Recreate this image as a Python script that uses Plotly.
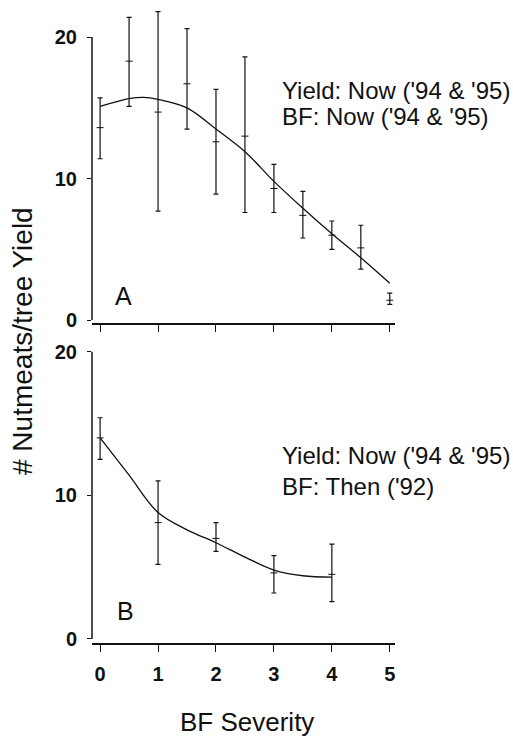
import plotly.graph_objects as go

# ---- Data ----
sev_a = [0, 0.5, 1, 1.5, 2, 2.5, 3, 3.5, 4, 4.5, 5]
mean_a = [13.6, 18.3, 14.7, 16.7, 12.6, 13.0, 9.3, 7.4, 6.0, 5.1, 1.4]
upper_a = [15.7, 21.4, 21.8, 20.6, 16.3, 18.6, 11.0, 9.1, 7.0, 6.7, 1.9]
lower_a = [11.4, 15.1, 7.7, 13.5, 8.9, 7.6, 7.6, 5.8, 5.0, 3.6, 1.1]
fit_x_a = [0, 0.5, 0.75, 1, 1.5, 2, 2.5, 3, 3.5, 4, 4.5, 5]
fit_a = [15.1, 15.65, 15.74, 15.6, 15.0, 13.5, 11.9, 9.8, 7.9, 6.1, 4.4, 2.6]

sev_b = [0, 1, 2, 3, 4]
mean_b = [14.0, 8.1, 7.0, 4.6, 4.5]
upper_b = [15.4, 11.0, 8.1, 5.8, 6.6]
lower_b = [12.5, 5.2, 6.1, 3.2, 2.6]
fit_x_b = [0, 0.5, 1, 1.5, 2, 2.5, 3, 3.5, 4]
fit_b = [14.0, 11.4, 8.8, 7.6, 6.7, 5.7, 4.8, 4.4, 4.3]

x_ticks = [0, 1, 2, 3, 4, 5]
y_ticks = [0, 10, 20]

FONT = "Arial, Liberation Sans, Helvetica, sans-serif"
INK = "#111111"

W, H = 513, 740
L, R, T, B = 92, 118, 6, 97
PW, PH = W - L - R, H - T - B


def px(x, y):
    return (x - L) / PW, (H - B - y) / PH


fig = go.Figure()


def add_panel(xs, m, up, lo, fx, fy, xa, ya):
    fig.add_trace(go.Scatter(
        x=fx, y=fy, mode="lines", xaxis=xa, yaxis=ya,
        line=dict(color=INK, width=1.3, shape="spline", smoothing=1.0),
        hoverinfo="skip", showlegend=False))
    fig.add_trace(go.Scatter(
        x=xs, y=m, mode="markers", xaxis=xa, yaxis=ya,
        marker=dict(symbol="line-ew", size=5, color=INK,
                    line=dict(color=INK, width=1)),
        error_y=dict(type="data", symmetric=False,
                     array=[u - v for u, v in zip(up, m)],
                     arrayminus=[v - l for v, l in zip(m, lo)],
                     color=INK, thickness=1.2, width=2.5),
        showlegend=False))


add_panel(sev_a, mean_a, upper_a, lower_a, fit_x_a, fit_a, "x", "y")
add_panel(sev_b, mean_b, upper_b, lower_b, fit_x_b, fit_b, "x2", "y2")

axis_common = dict(showgrid=False, zeroline=False, ticks="outside",
                   automargin=False,
                   tickcolor=INK, tickwidth=1.2,
                   tickfont=dict(family=FONT, size=20, color=INK, weight="bold"))

yA0, yA1 = px(0, 323)[1], 1.0
yB0, yB1 = 0.0, px(0, 348.8)[1]

fig.update_layout(
    width=W, height=H,
    margin=dict(l=L, r=R, t=T, b=B, autoexpand=False),
    paper_bgcolor="white", plot_bgcolor="white",
    xaxis=dict(domain=[0, 1], anchor="y", range=[-0.14, 5.09],
               tickvals=x_ticks, showticklabels=False, ticklen=7,
               showline=True, linecolor=INK, linewidth=1.5, **axis_common),
    yaxis=dict(domain=[yA0, yA1], anchor="x", range=[-0.21, 22.2],
               tickvals=y_ticks, ticklen=4, ticklabelstandoff=6,
               showline=False, **axis_common),
    xaxis2=dict(domain=[0, 1], anchor="y2", range=[-0.14, 5.09],
                tickvals=x_ticks, ticklen=7, ticklabelstandoff=5,
                showline=True, linecolor=INK, linewidth=1.5, **axis_common),
    yaxis2=dict(domain=[yB0, yB1], anchor="x2", range=[-0.28, 20.2],
                tickvals=y_ticks, ticklen=4, ticklabelstandoff=6,
                showline=False, **axis_common),
)

# y-axis lines spanning 0..20 only
for xr, yr in (("x domain", "y"), ("x2 domain", "y2")):
    fig.add_shape(type="line", xref=xr, yref=yr, x0=0, x1=0, y0=0, y1=20,
                  line=dict(color=INK, width=1.5))


def note(text, x, y, size, xanchor="left", angle=0, bold=False):
    xp, yp = px(x, y)
    fig.add_annotation(text=text, x=xp, y=yp, xref="paper", yref="paper",
                       xanchor=xanchor, yanchor="middle", showarrow=False,
                       textangle=angle, borderpad=0,
                       font=dict(family=FONT, size=size, color=INK,
                                 weight="bold" if bold else "normal"))


note("Yield: Now ('94 &amp; '95)", 281, 91, 24)
note("BF: Now ('94 &amp; '95)", 281, 116, 24)
note("Yield: Now ('94 &amp; '95)", 281, 455, 24)
note("BF: Then ('92)", 281, 487, 24)
note("A", 123, 296, 25, xanchor="center")
note("B", 125, 611, 25, xanchor="center")
note("BF Severity", 247, 722, 26, xanchor="center")
note("# Nutmeats/tree Yield", 22, 341, 28, xanchor="center", angle=-90)

fig.write_html("out.html", config={"displayModeBar": False},
               post_script="document.body.style.margin='0';")
